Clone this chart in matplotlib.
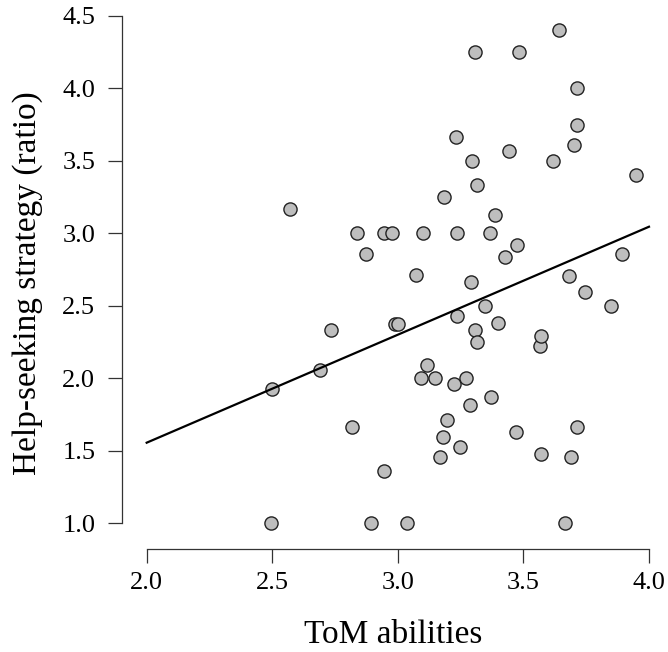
import numpy as np
import matplotlib
matplotlib.use("Agg")
import matplotlib.pyplot as plt

# ToM abilities vs help-seeking ratio
tom = [2.494, 2.498, 2.570, 2.689, 2.732, 2.819, 2.837, 2.875, 2.892, 2.944,
       2.945, 2.977, 2.988, 3.001, 3.035, 3.071, 3.093, 3.101, 3.118, 3.150,
       3.166, 3.178, 3.185, 3.196, 3.224, 3.232, 3.236, 3.236, 3.247, 3.272,
       3.287, 3.292, 3.295, 3.306, 3.308, 3.315, 3.316, 3.347, 3.368, 3.372,
       3.388, 3.398, 3.428, 3.444, 3.470, 3.474, 3.483, 3.567, 3.570, 3.570,
       3.616, 3.641, 3.665, 3.680, 3.689, 3.700, 3.712, 3.713, 3.713, 3.744,
       3.847, 3.891, 3.947]
help_ratio = [1.000, 1.927, 3.166, 2.059, 2.334, 1.666, 3.000, 2.855, 1.000, 3.000,
              1.362, 3.000, 2.377, 2.377, 1.000, 2.714, 2.000, 3.000, 2.093, 2.000,
              1.455, 1.597, 3.249, 1.713, 1.962, 3.666, 3.000, 2.428, 1.526, 2.000,
              1.817, 2.666, 3.498, 2.334, 4.250, 3.334, 2.248, 2.500, 3.000, 1.874,
              3.125, 2.382, 2.836, 3.570, 1.628, 2.917, 4.250, 2.220, 2.289, 1.480,
              3.498, 4.400, 1.000, 2.707, 1.457, 3.611, 3.750, 4.000, 1.666, 2.599,
              2.500, 2.857, 3.400]

# fitted line as drawn in the figure
fit_x = [2.0, 4.0]
fit_y = [1.556, 3.046]

x_ticks = [2.0, 2.5, 3.0, 3.5, 4.0]
y_ticks = [1.0, 1.5, 2.0, 2.5, 3.0, 3.5, 4.0, 4.5]

plt.rcParams['font.family'] = ['Liberation Serif', 'DejaVu Serif']

fig = plt.figure(figsize=(6.68, 6.52), dpi=100)
ax = fig.add_axes([0.1895, 0.1663, 0.8121, 0.8403])

ax.scatter(tom, help_ratio, s=90, facecolor='#bebebe', edgecolor='#222222',
           linewidths=1.0, zorder=2, clip_on=False)
ax.plot(fit_x, fit_y, color='black', lw=1.6, zorder=3)

ax.set_xlim(1.92, 4.08)
ax.set_ylim(0.86, 4.64)
ax.set_xticks(x_ticks)
ax.set_yticks(y_ticks)
ax.set_xticklabels([f"{v:.1f}" for v in x_ticks])
ax.set_yticklabels([f"{v:.1f}" for v in y_ticks])

for side in ['top', 'right']:
    ax.spines[side].set_visible(False)
ax.spines['left'].set_position(('outward', 3.5))
ax.spines['bottom'].set_position(('outward', 3.7))
ax.spines['left'].set_bounds(1.0, 4.5)
ax.spines['bottom'].set_bounds(2.0, 4.0)
for side in ['left', 'bottom']:
    ax.spines[side].set_linewidth(0.9)
    ax.spines[side].set_color('#333333')

ax.tick_params(axis='both', length=10, width=0.9, color='#333333',
               labelsize=19, direction='out')
ax.tick_params(axis='y', pad=9)
ax.tick_params(axis='x', pad=7)

ax.set_xlabel('ToM abilities', fontsize=24, labelpad=18)
ax.set_ylabel('Help-seeking strategy (ratio)', fontsize=24, labelpad=14)
# nudge labels along their axes to sit where the original has them
ax.xaxis.label.set_x(0.491)
ax.yaxis.label.set_y(0.476)

fig.savefig('out.png', dpi=100)
